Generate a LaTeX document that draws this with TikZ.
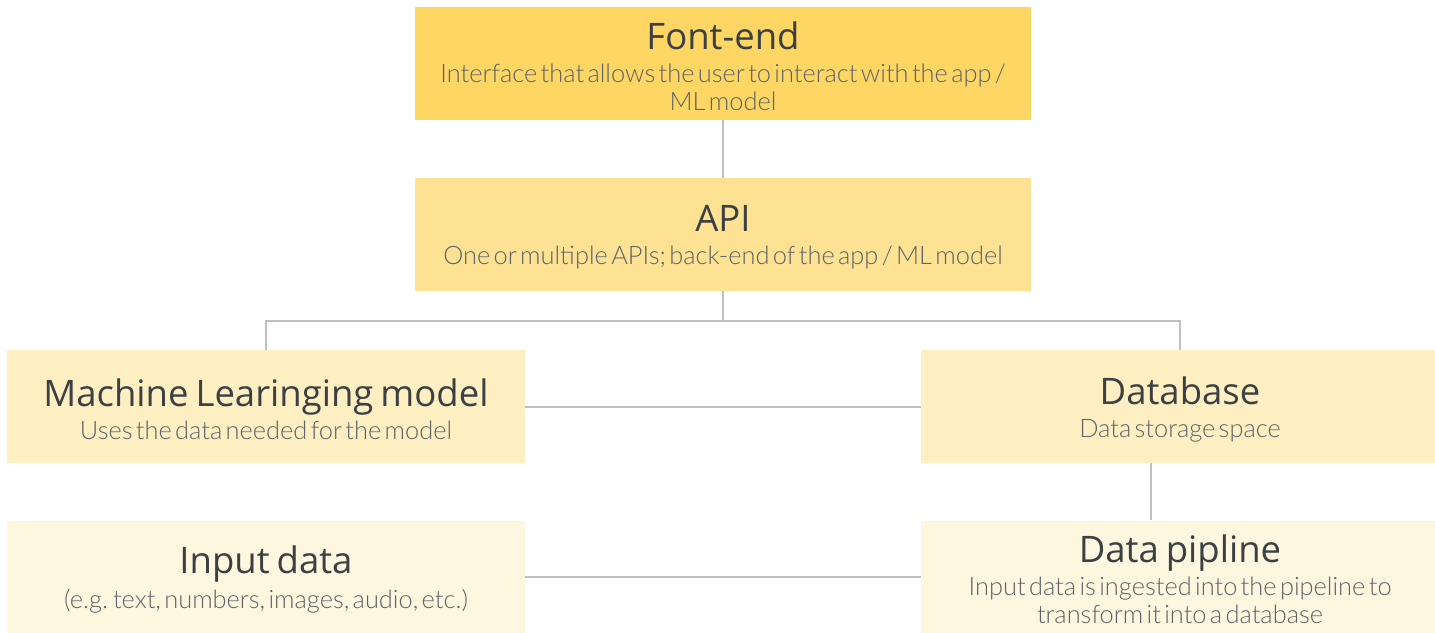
\documentclass[tikz,border=0pt]{standalone}
\usepackage{fontspec}
\setmainfont{Open Sans}
\newfontfamily\titlef{Open Sans}
\newfontfamily\subf{Lato Light}
\definecolor{yA}{HTML}{FDD663}
\definecolor{yB}{HTML}{FDE293}
\definecolor{yC}{HTML}{FEEFC3}
\definecolor{yD}{HTML}{FEF7E0}
\definecolor{titlec}{HTML}{3C4043}
\definecolor{subc}{HTML}{5F6368}
\definecolor{linec}{HTML}{BDC1C6}
\newcommand{\boxtext}[2]{{\fontsize{36.5}{36}\selectfont\titlef\spaceskip=7pt\relax\color{titlec}#1\par}\vspace{5pt}{\fontsize{25.4}{28}\selectfont\subf\color{subc}#2\par}}
\tikzset{
  card/.style={rectangle, draw=none, inner sep=0pt, minimum width=#1, minimum height=113pt},
  card/.default=518pt,
  cardtext/.style={inner sep=0pt, align=center, text width=#1, yshift=-2.5pt},
  cardtext/.default=518pt,
  conn/.style={draw=linec, line width=2pt}
}
\begin{document}
\begin{tikzpicture}[x=1pt,y=-1pt]
\useasboundingbox (0,0) rectangle (1435,632);
\node[card=616pt, fill=yA] (fe) at (723,63.5) {};
\node[cardtext=616pt] (fe-t) at (fe.center) {\boxtext{Font-end}{Interface that allows the user to interact with the app /\\ ML model}};
\node[card=616pt, fill=yB] (api) at (723,234.5) {};
\node[cardtext=616pt] (api-t) at (api.center) {\boxtext{API}{One or multiple APIs; back-end of the app / ML model}};
\node[card, fill=yC] (ml) at (266,406.5) {};
\node[cardtext] (ml-t) at (ml.center) {\boxtext{Machine Learinging model}{Uses the data needed for the model}};
\node[card, fill=yC] (db) at (1180,406.5) {};
\node[cardtext] (db-t) at (db.center) {\boxtext{Database}{Data storage space}};
\node[card, fill=yD] (in) at (266,577) {};
\node[cardtext] (in-t) at (in.center) {\boxtext{Input data}{(e.g. text, numbers, images, audio, etc.)}};
\node[card, fill=yD] (dp) at (1180,577) {};
\node[cardtext] (dp-t) at (dp.center) {\boxtext{Data pipline}{Input data is ingested into the pipeline to\\ transform it into a database}};
\coordinate (split) at (723,321);
\draw[conn] (fe.south) -- (api.north);
\draw[conn] (api.south) -- (split);
\draw[conn] (ml.north) |- (split) -| (db.north);
\draw[conn] (ml.east) -- (db.west);
\draw[conn] (in.east) -- (dp.west);
\draw[conn] ([xshift=-29pt]db.south) -- ([xshift=-29pt]dp.north);
\end{tikzpicture}
\end{document}
